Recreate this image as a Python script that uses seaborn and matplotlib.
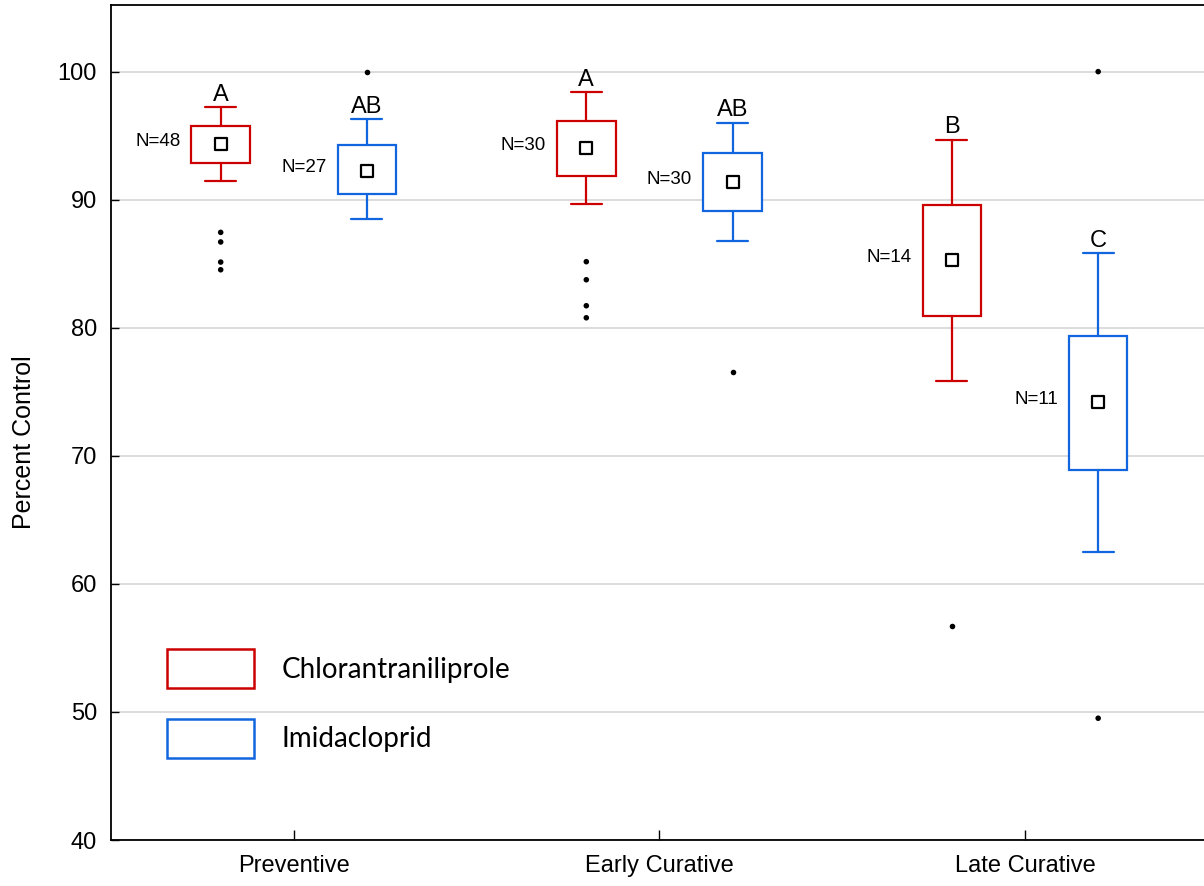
#
# plot.py
#   - Percent control by application timing, box plots per product.
#

import numpy as np
import pandas as pd
import seaborn as sns
import matplotlib.pyplot as plt
from matplotlib.patches import Patch

timings = ["Preventive", "Early Curative", "Late Curative"]
products = ["Chlorantraniliprole", "Imidacloprid"]
colors = {"Chlorantraniliprole": "#CC0000", "Imidacloprid": "#1166E0"}

# one entry per box: (timing, product) in order
box_timing = ["Preventive", "Preventive", "Early Curative", "Early Curative",
              "Late Curative", "Late Curative"]
box_product = ["Chlorantraniliprole", "Imidacloprid"] * 3
medians = [94.35, 92.27, 94.04, 91.35, 85.26, 74.2]
q1 = [92.89, 90.47, 91.88, 89.14, 80.91, 68.91]
q3 = [95.78, 94.24, 96.17, 93.62, 89.61, 79.38]
whis_lo = [91.46, 88.49, 89.66, 86.8, 75.84, 62.5]
whis_hi = [97.24, 96.27, 98.39, 96.02, 94.69, 85.81]
n_obs = [48, 27, 30, 30, 14, 11]
letters = ["A", "AB", "A", "AB", "B", "C"]
outliers = [[87.45, 86.7, 85.13, 84.53],
            [100.0],
            [85.16, 83.75, 81.72, 80.78],
            [76.54],
            [56.7],
            [100.0, 49.51]]


def main():
    sns.set_style("white")
    plt.rcParams['font.family'] = ['Liberation Sans', 'DejaVu Sans']
    plt.rcParams['text.color'] = 'black'
    plt.rcParams['axes.labelcolor'] = 'black'
    plt.rcParams['xtick.color'] = 'black'
    plt.rcParams['ytick.color'] = 'black'

    fig, ax = plt.subplots(figsize=(12.04, 8.86), dpi=100)
    ax.set_position([0.0922, 0.0519, 0.911, 0.9424])

    dodge = {"Chlorantraniliprole": -0.2, "Imidacloprid": 0.2}
    pos = [timings.index(t) + dodge[p] for t, p in zip(box_timing, box_product)]

    # boxes from summary stats
    for i in range(len(medians)):
        c = colors[box_product[i]]
        stats = [dict(med=medians[i], q1=q1[i], q3=q3[i],
                      whislo=whis_lo[i], whishi=whis_hi[i], fliers=[])]
        ax.bxp(stats, positions=[pos[i]], widths=0.16, capwidths=0.085,
               patch_artist=True, showfliers=False, manage_ticks=False,
               boxprops=dict(facecolor="white", edgecolor=c, linewidth=1.6),
               whiskerprops=dict(color=c, linewidth=1.6),
               capprops=dict(color=c, linewidth=1.6),
               medianprops=dict(linewidth=0), zorder=3)

    med_df = pd.DataFrame({"timing": box_timing, "product": box_product,
                           "value": medians})
    out_df = pd.DataFrame({
        "timing": [t for t, o in zip(box_timing, outliers) for _ in o],
        "product": [p for p, o in zip(box_product, outliers) for _ in o],
        "value": [v for o in outliers for v in o]})

    sns.stripplot(data=out_df, x="timing", y="value", hue="product",
                  order=timings, hue_order=products, dodge=True, jitter=False,
                  palette={p: "black" for p in products}, size=4,
                  legend=False, ax=ax, zorder=4)
    sns.stripplot(data=med_df, x="timing", y="value", hue="product",
                  order=timings, hue_order=products, dodge=True, jitter=False,
                  palette={p: "white" for p in products}, marker="s", size=9,
                  linewidth=1.6, edgecolor="black", legend=False, ax=ax,
                  zorder=5)

    for i in range(len(medians)):
        ax.annotate(letters[i], (pos[i], whis_hi[i]), xytext=(0, 1),
                    textcoords="offset points", ha="center", va="bottom",
                    fontsize=17)
        ax.annotate(f"N={n_obs[i]}", (pos[i] - 0.08, medians[i]),
                    xytext=(-8, 2), textcoords="offset points",
                    ha="right", va="center", fontsize=13.5)

    ax.set_xlim(-0.5, 2.5)
    ax.set_ylim(40, 105.2)
    ax.set_yticks(np.arange(40, 101, 10))
    ax.set_xlabel("")
    ax.set_ylabel("Percent Control", fontsize=18)
    ax.yaxis.set_label_coords(-0.068, 0.477)
    ax.tick_params(axis="y", direction="in", length=6, width=1, pad=10,
                   labelsize=17, left=True)
    ax.tick_params(axis="x", direction="in", length=7, width=1, pad=11,
                   labelsize=17, bottom=True)

    ax.yaxis.grid(True, color="#d9d9d9", linewidth=1.3)
    ax.set_axisbelow(True)
    for s in ["left", "bottom", "top", "right"]:
        ax.spines[s].set_color("black")
        ax.spines[s].set_linewidth(1.3)

    handles = [Patch(facecolor="white", edgecolor=colors[p], linewidth=1.8,
                     label=p) for p in products]
    ax.legend(handles=handles, loc="upper left", bbox_to_anchor=(0.051, 0.2287),
              frameon=False, borderpad=0, borderaxespad=0,
              handlelength=3.13, handleheight=1.78, handletextpad=1.0,
              labelspacing=1.1, prop={"family": "Lato", "size": 20})

    plt.savefig("out.png", dpi=100)


if __name__ == '__main__':
    main()
